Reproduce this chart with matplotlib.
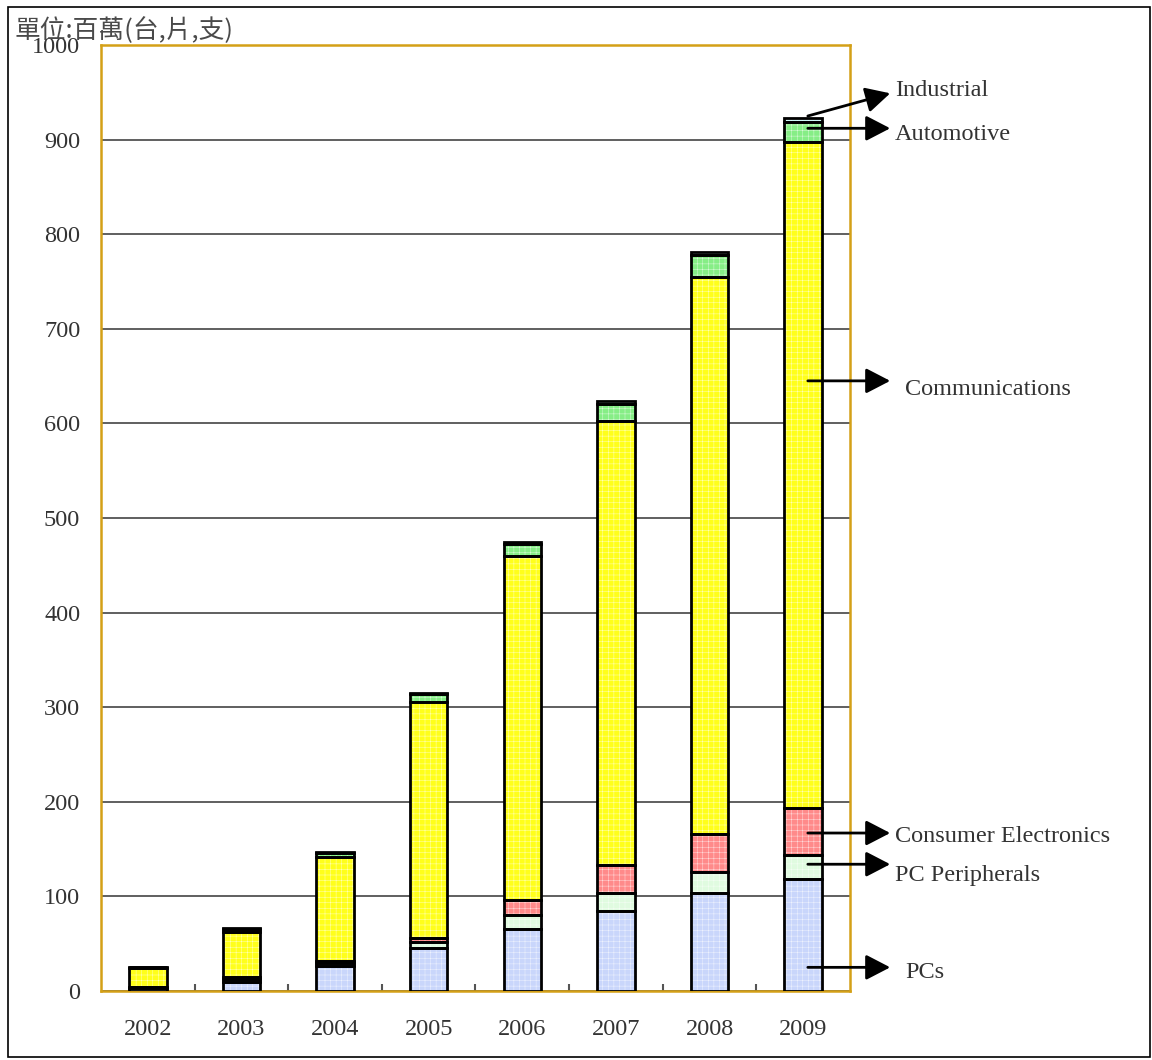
import matplotlib
matplotlib.use('Agg')
from matplotlib import pyplot
from matplotlib.patches import Rectangle
import numpy

years = ["2002", "2003", "2004", "2005", "2006", "2007", "2008", "2009"]
segments = ["PCs", "PC Peripherals", "Consumer Electronics",
            "Communications", "Automotive", "Industrial"]

# units: millions (stacked from the bottom up)
pcs = [3, 10, 26, 45, 66, 85, 104, 118]
pc_peripherals = [1, 3, 4, 7, 14, 19, 22, 26]
consumer_electronics = [0.5, 2, 2, 4, 16, 29, 40, 49]
communications = [20, 47, 110, 249, 364, 470, 589, 704]
automotive = [0.5, 4, 4, 9, 13, 18, 23, 22]
industrial = [0.3, 1, 1, 1, 2, 3, 3, 4]

series = [pcs, pc_peripherals, consumer_electronics,
          communications, automotive, industrial]
colors = ["#c9d6fb", "#e0fbe0", "#ff8a8a", "#ffff1a", "#86ee86", "#ccf6f6"]

# arrow tail / head heights for the labels on the right
arrow_y = {"Industrial": (925, 949), "Automotive": (912, 912),
           "Communications": (645, 645), "Consumer Electronics": (167, 167),
           "PC Peripherals": (134, 134), "PCs": (25, 25)}
label_y = {"Industrial": 952, "Automotive": 905, "Communications": 636,
           "Consumer Electronics": 163, "PC Peripherals": 122, "PCs": 20}

pyplot.rcParams['font.family'] = ['Liberation Serif', 'DejaVu Serif']
pyplot.rcParams['hatch.linewidth'] = 0.35

fig = pyplot.figure(figsize=(11.52, 10.6), dpi=100)
ax = fig.add_axes([0.0877, 0.0651, 0.6501, 0.8924])

x = numpy.arange(len(years))
bottom = numpy.zeros(len(years))
for vals, col in zip(series, colors):
    vals = numpy.array(vals, dtype=float)
    # fill with a fine white grid, then a black outline on top
    ax.bar(x, vals, 0.4, bottom=bottom, color=col, edgecolor=(1, 1, 1, 0.7),
           hatch='+++', linewidth=0, zorder=3)
    ax.bar(x, vals, 0.4, bottom=bottom, fill=False, edgecolor='black',
           linewidth=2.0, zorder=4)
    bottom += vals

ax.set_xlim(-0.5, 7.5)
ax.set_ylim(0, 1000)
ax.set_yticks(numpy.arange(0, 1001, 100))
ax.set_xticks(x)
ax.set_xticklabels(years)
ax.set_xticks(numpy.arange(0.5, 7.5, 1), minor=True)
ax.tick_params(axis='both', which='major', length=0, labelsize=17.5,
               labelcolor='#333333')
ax.tick_params(axis='x', which='major', pad=20)
ax.tick_params(axis='y', which='major', pad=15)
ax.tick_params(axis='x', which='minor', direction='in', length=5,
               width=1.5, color='#555555')
ax.grid(axis='y', color='#444444', linewidth=1.2, zorder=1)
ax.set_axisbelow(True)
for sp in ax.spines.values():
    sp.set_color('#d4a017')
    sp.set_linewidth(1.8)

for name in segments:
    y0, y1 = arrow_y[name]
    ax.annotate('', xy=(7.93, y1), xytext=(7.05, y0),
                arrowprops=dict(arrowstyle='-|>,head_length=1.35,head_width=0.7',
                                mutation_scale=11, color='black', linewidth=2,
                                shrinkA=0, shrinkB=0),
                annotation_clip=False, zorder=6)
    tx = 8.09 if name in ("Communications", "PCs") else 7.98
    ax.text(tx, label_y[name], name, fontsize=17.5, color='#333333',
            va='center', ha='left', clip_on=False)

fig.text(0.013, 0.971, "單位:百萬(台,片,支)", fontsize=18.5, color='#4a4a4a',
         family=['Noto Sans CJK TC', 'DejaVu Sans'], va='center', ha='left')

# thin page border
fig.patches.append(Rectangle((0.007, 0.003), 0.991, 0.99, transform=fig.transFigure,
                             fill=False, edgecolor='black', linewidth=1.2))

fig.savefig('out.png', dpi=100)
